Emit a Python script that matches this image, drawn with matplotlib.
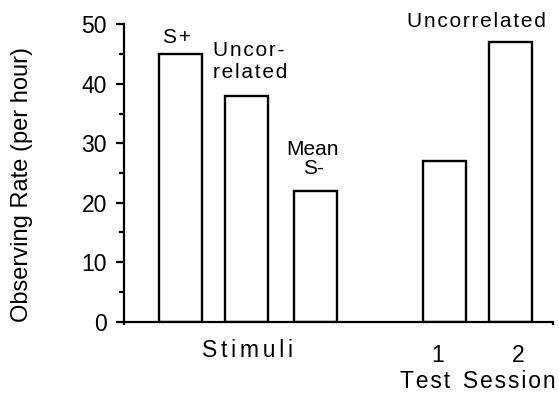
import matplotlib
matplotlib.use("Agg")
import matplotlib.pyplot as plt
from matplotlib.ticker import MultipleLocator

plt.rcParams['font.family'] = ['Liberation Sans', 'DejaVu Sans']

# Data
categories = ["S+", "Uncorrelated", "Mean S-", "Test 1", "Test 2"]
values = [45, 38, 22, 27, 47]
bar_labels = ["S+", "Uncor-\nrelated", "Mean\nS-", "", "Uncorrelated"]
yticks = [0, 10, 20, 30, 40, 50]

# layout (x axis in pixel-like units)
bar_x = [56, 122.5, 191.3, 320.5, 386.5]
bar_w = 43

def spaced(s, sp):
    return sp.join(list(s))

HS = "\u200a"

W, H = 559, 394
fig = plt.figure(figsize=(W / 100, H / 100), dpi=100)
ax = fig.add_axes([124 / W, 1 - 321.7 / H, 429 / W, (321.7 - 24.3) / H])

ax.bar(bar_x, values, width=bar_w, color='white', edgecolor='black', linewidth=1.7)

ax.set_xlim(0, 429)
ax.set_ylim(0, 50)
for s in ['top', 'right']:
    ax.spines[s].set_visible(False)
for s in ['left', 'bottom']:
    ax.spines[s].set_linewidth(1.6)

ax.set_yticks(yticks)
ax.set_yticklabels([str(t) for t in yticks], fontsize=16.5)
ax.yaxis.set_minor_locator(MultipleLocator(5))
ax.tick_params(axis='y', which='major', length=5.8, width=1.6, pad=6.5, direction='out')
ax.tick_params(axis='y', which='minor', length=3.6, width=1.6, direction='out')
ax.set_xticks([0, 429])
ax.set_xticklabels(['', ''])
ax.tick_params(axis='x', which='major', length=2.5, width=1.6, direction='out')

# annotations
ax.text(53, 47.8, spaced(bar_labels[0], HS), ha='center', va='center', fontsize=15)
ax.text(89, 43.7, "\n".join(spaced(l, HS) for l in bar_labels[1].split("\n")),
        ha='left', va='center', fontsize=15, linespacing=1.2, multialignment='left')
ax.text(189, 27.4, bar_labels[2], ha='center', va='center', fontsize=15, linespacing=1.0)
ax.text(352, 50.4, spaced(bar_labels[4], HS), ha='center', va='center', fontsize=15, clip_on=False)

ax.text(123.5, -4.9, spaced("Stimuli", HS + HS), ha='center', va='center', fontsize=16.5, clip_on=False)
ax.text(314, -5.6, "1", ha='center', va='center', fontsize=16.5, clip_on=False)
ax.text(394, -5.6, "2", ha='center', va='center', fontsize=16.5, clip_on=False)
ax.text(353.5, -10.1, spaced("Test", HS) + "  " + spaced("Session", HS),
        ha='center', va='center', fontsize=16.5, clip_on=False)

fig.text(22 / W, 1 - 184 / H, "Observing Rate (per hour)", rotation=90,
         ha='center', va='center', fontsize=17)

fig.savefig("out.png", dpi=100)
